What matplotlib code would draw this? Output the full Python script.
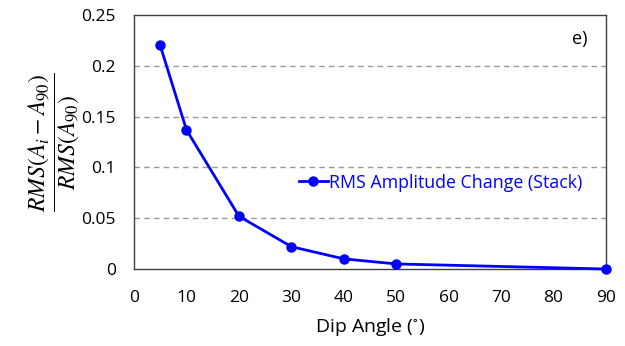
import matplotlib.pyplot as plt

dip_angle = [5, 10, 20, 30, 40, 50, 90]
rms_change = [0.220, 0.137, 0.052, 0.022, 0.010, 0.005, 0.0]
x_ticks = [0, 10, 20, 30, 40, 50, 60, 70, 80, 90]
y_ticks = [0, 0.05, 0.1, 0.15, 0.2, 0.25]
y_tick_labels = ["0", "0.05", "0.1", "0.15", "0.2", "0.25"]

plt.rcParams["font.family"] = ["Open Sans", "DejaVu Sans"]
plt.rcParams["mathtext.fontset"] = "stix"

fig = plt.figure(figsize=(6.25, 3.46), dpi=100)
ax = fig.add_axes([0.2144, 0.2225, 0.7552, 0.7341])

ax.plot(dip_angle, rms_change, color="#0000ff", marker="o", markersize=6.5,
        linewidth=2, label="RMS Amplitude Change (Stack)", clip_on=False, zorder=3)

ax.set_xlim(0, 90)
ax.set_ylim(0, 0.25)
ax.set_xticks(x_ticks)
ax.set_yticks(y_ticks)
ax.set_yticklabels(y_tick_labels)
ax.tick_params(length=0, labelsize=12.5, colors="#000000")
ax.tick_params(axis="x", pad=15)
ax.tick_params(axis="y", pad=13)

for y in y_ticks[1:-1]:
    ax.axhline(y, color="#9a9a9a", linestyle=(0, (4, 3)), linewidth=1, zorder=1)

for s in ax.spines.values():
    s.set_color("#404040")
    s.set_linewidth(1)

ax.set_xlabel("Dip Angle ($^{\\circ}$)", fontsize=14, labelpad=7)
ax.set_ylabel(r"$\dfrac{RMS(A_i - A_{90})}{RMS(A_{90})}$", fontsize=17, labelpad=0)

ax.text(0.96, 0.905, "e)", transform=ax.transAxes, fontsize=13, ha="right", va="center")

leg = ax.legend(loc="center left", bbox_to_anchor=(0.335, 0.34), frameon=False,
                fontsize=12.8, handlelength=1.6, handletextpad=0.1, borderaxespad=0)
for t in leg.get_texts():
    t.set_color("#0000ff")

fig.savefig("out.png", dpi=100)
